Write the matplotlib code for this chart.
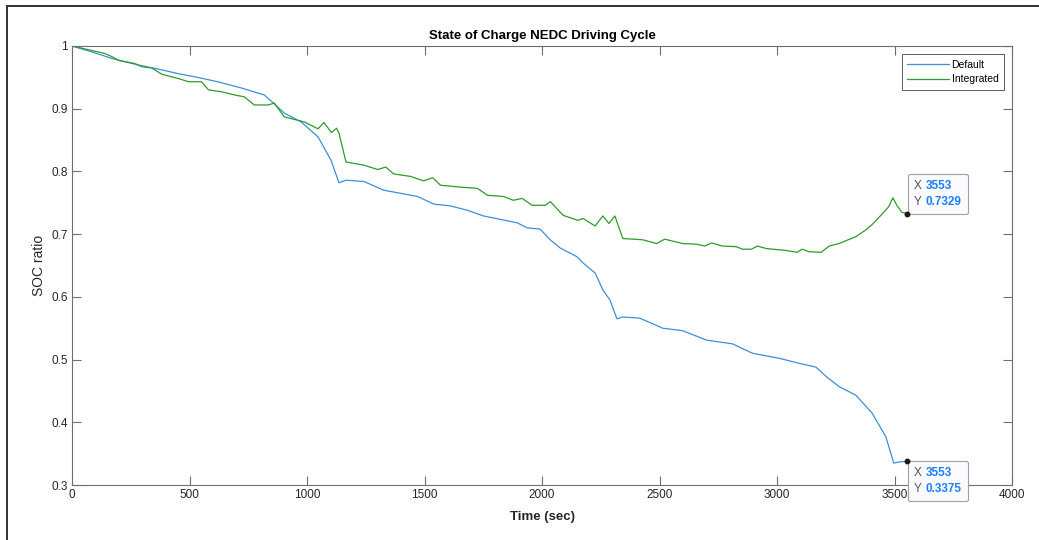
import matplotlib
matplotlib.use("Agg")
import matplotlib.pyplot as plt
from matplotlib.lines import Line2D
from matplotlib.offsetbox import TextArea, HPacker, VPacker, AnnotationBbox

# ---- data ----
t_def = [0, 90, 170, 280, 382, 450, 521, 620, 721, 818, 860, 903, 975, 1047, 1102,
         1136, 1166, 1242, 1327, 1400, 1471, 1539, 1611, 1683, 1751, 1830, 1895, 1937,
         1992, 2035, 2077, 2149, 2175, 2226, 2259, 2289, 2319, 2344, 2416, 2459, 2514,
         2599, 2700, 2811, 2896, 3010, 3095, 3166, 3209, 3264, 3336, 3404, 3463, 3497,
         3525, 3553]
soc_def = [1.0, 0.99, 0.980, 0.970, 0.962, 0.956, 0.951, 0.943, 0.933, 0.922, 0.908,
           0.893, 0.879, 0.855, 0.818, 0.782, 0.786, 0.784, 0.770, 0.765, 0.760, 0.748,
           0.745, 0.738, 0.729, 0.723, 0.718, 0.710, 0.708, 0.691, 0.678, 0.664, 0.654,
           0.638, 0.611, 0.595, 0.565, 0.568, 0.566, 0.559, 0.550, 0.546, 0.531, 0.525,
           0.510, 0.502, 0.494, 0.488, 0.473, 0.457, 0.443, 0.415, 0.377, 0.335, 0.337,
           0.3375]

t_int = [0, 13, 140, 170, 199, 267, 297, 339, 382, 454, 496, 551, 581, 636, 691, 733,
         776, 835, 861, 903, 988, 1047, 1072, 1104, 1126, 1136, 1166, 1242, 1301, 1335,
         1369, 1441, 1496, 1535, 1568, 1653, 1725, 1768, 1836, 1878, 1916, 1958, 2014,
         2035, 2090, 2153, 2175, 2226, 2259, 2285, 2310, 2344, 2429, 2488, 2522, 2599,
         2658, 2692, 2722, 2768, 2827, 2853, 2891, 2917, 2955, 3039, 3086, 3107, 3137,
         3188, 3222, 3264, 3336, 3379, 3404, 3442, 3476, 3493, 3510, 3531, 3553]
soc_int = [1.0, 0.999, 0.988, 0.983, 0.977, 0.972, 0.967, 0.965, 0.955, 0.948, 0.943,
           0.943, 0.930, 0.927, 0.922, 0.919, 0.906, 0.906, 0.909, 0.887, 0.879, 0.868,
           0.878, 0.862, 0.869, 0.861, 0.815, 0.810, 0.803, 0.807, 0.796, 0.792, 0.785,
           0.790, 0.778, 0.775, 0.773, 0.762, 0.760, 0.754, 0.757, 0.746, 0.746, 0.752,
           0.730, 0.722, 0.725, 0.713, 0.729, 0.717, 0.729, 0.693, 0.691, 0.685, 0.692,
           0.685, 0.684, 0.681, 0.686, 0.681, 0.680, 0.676, 0.676, 0.681, 0.677, 0.674,
           0.671, 0.676, 0.672, 0.671, 0.681, 0.685, 0.696, 0.707, 0.715, 0.730, 0.744,
           0.758, 0.746, 0.735, 0.7329]

x_ticks = [0, 500, 1000, 1500, 2000, 2500, 3000, 3500, 4000]
y_ticks = [0.3, 0.4, 0.5, 0.6, 0.7, 0.8, 0.9, 1.0]
y_ticklabels = ["0.3", "0.4", "0.5", "0.6", "0.7", "0.8", "0.9", "1"]
series_names = ["Default", "Integrated"]

# ---- style ----
plt.rcParams['font.family'] = ['Liberation Sans', 'DejaVu Sans']
W, H = 1039, 540
fig = plt.figure(figsize=(W / 100, H / 100), dpi=100)
ax = fig.add_axes([72 / W, 1 - 485 / H, 940 / W, 439 / H])

c_def = '#3d8fd8'
c_int = '#2e9a2e'
spine_c = '#6e6e6e'
txt_c = '#262626'

ax.plot(t_def, soc_def, color=c_def, lw=0.9, label=series_names[0])
ax.plot(t_int, soc_int, color=c_int, lw=0.9, label=series_names[1])

ax.set_xlim(0, 4000)
ax.set_ylim(0.3, 1.0)
ax.set_xticks(x_ticks)
ax.set_xticklabels([str(v) for v in x_ticks])
ax.set_yticks(y_ticks)
ax.set_yticklabels(y_ticklabels)
ax.tick_params(direction='in', length=6.5, width=0.8, color=spine_c,
               labelsize=8.5, labelcolor=txt_c, top=True, right=True, pad=3)
for s in ax.spines.values():
    s.set_color(spine_c)
    s.set_linewidth(0.8)

ax.set_title("State of Charge NEDC Driving Cycle", fontsize=9.5, fontweight='bold',
             color='black', pad=5)
ax.set_xlabel("Time (sec)", fontsize=9.5, fontweight='bold', color=txt_c, labelpad=7)
ax.set_ylabel("SOC ratio", fontsize=10, color=txt_c, labelpad=4)

leg = ax.legend(loc='upper right', fontsize=7.5, frameon=True, fancybox=False,
                handlelength=4.0, handletextpad=0.25, borderpad=0.55,
                labelspacing=0.45, borderaxespad=0.75)
leg.get_frame().set_edgecolor('#333333')
leg.get_frame().set_linewidth(0.7)

# ---- data tips ----
def data_tip(x, y, align):
    fs = 8.5
    r1 = HPacker(children=[TextArea("X", textprops=dict(color='#555555', size=fs)),
                           TextArea(f"{x}", textprops=dict(color='#1a7fff', size=fs,
                                                           fontweight='bold'))],
                 align='baseline', pad=0, sep=3)
    r2 = HPacker(children=[TextArea("Y", textprops=dict(color='#555555', size=fs)),
                           TextArea(f"{y:.4f}", textprops=dict(color='#1a7fff', size=fs,
                                                               fontweight='bold'))],
                 align='baseline', pad=0, sep=3)
    box = VPacker(children=[r1, r2], align='left', pad=0, sep=3)
    dy = 4 if align == 0 else -4
    ab = AnnotationBbox(box, (x, y), xybox=(5, dy), boxcoords='offset points',
                        box_alignment=(0, align), frameon=True, pad=0.45,
                        annotation_clip=False,
                        bboxprops=dict(edgecolor='#a0a0a0', facecolor='#fbfbff',
                                       boxstyle='round,pad=0.45,rounding_size=0.15',
                                       lw=0.8))
    ax.add_artist(ab)
    ax.plot([x], [y], 'o', color='#1a1a1a', ms=3.2, zorder=5, clip_on=False)

data_tip(t_int[-1], soc_int[-1], 0)
data_tip(t_def[-1], soc_def[-1], 1)

# ---- window frame ----
fig.add_artist(Line2D([7 / W, 7 / W], [0, 1 - 6 / H], color='#333333', lw=1.4))
fig.add_artist(Line2D([7 / W, 1], [1 - 6 / H, 1 - 6 / H], color='#333333', lw=1.4))

fig.savefig("out.png", dpi=100)
